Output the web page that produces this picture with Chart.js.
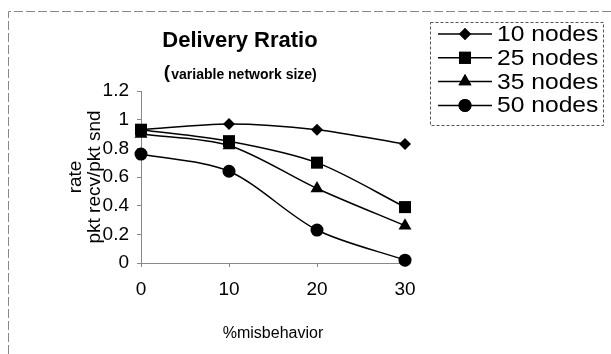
<!DOCTYPE html>
<html lang="en">
<head>
    <meta charset="UTF-8">
    <script src="https://cdn.jsdelivr.net/npm/chart.js"></script>
    <title>Delivery Rratio</title>
    <style>
        body { margin: 0; background: #fff; }
        #wrap { width: 611px; height: 354px; }
    </style>
</head>
<body>
    <div id="wrap"><canvas id="myChart" width="611" height="354"></canvas></div>
    <script>
        // misbehaving nodes (%) and delivery ratio per network size
        var misbehavior = ['0', '10', '20', '30'];
        var nodes10 = [0.93, 0.97, 0.93, 0.83];
        var nodes25 = [0.93, 0.85, 0.70, 0.39];
        var nodes35 = [0.90, 0.82, 0.52, 0.26];
        var nodes50 = [0.76, 0.64, 0.23, 0.02];
        var seriesNames = ['10 nodes', '25 nodes', '35 nodes', '50 nodes'];
        var yTicks = [0, 0.2, 0.4, 0.6, 0.8, 1, 1.2];

        var FONT = '"Liberation Sans", Arial, sans-serif';

        function line(label, values, style, radius) {
            return {
                label: label,
                data: values,
                borderColor: '#000',
                backgroundColor: '#000',
                borderWidth: 1.5,
                tension: 0.3,
                pointStyle: style,
                pointRadius: radius,
                pointBorderWidth: 0,
                pointBackgroundColor: '#000',
                clip: false
            };
        }

        // page frame, title block and the boxed legend
        var decor = {
            id: 'decor',
            afterDraw: function (chart) {
                var ctx = chart.ctx;
                ctx.save();
                ctx.strokeStyle = '#888';
                ctx.lineWidth = 1;
                ctx.setLineDash([9, 3]);
                ctx.beginPath();
                ctx.moveTo(8.5, 354);
                ctx.lineTo(8.5, 11.5);
                ctx.lineTo(611, 11.5);
                ctx.stroke();

                ctx.fillStyle = '#000';
                ctx.textAlign = 'center';
                ctx.textBaseline = 'middle';
                ctx.font = 'bold 22px ' + FONT;
                ctx.fillText('Delivery Rratio', 240, 41);
                ctx.font = 'bold 14px ' + FONT;
                ctx.fillText('variable network size)', 244, 75);
                ctx.font = 'bold 19px ' + FONT;
                ctx.fillText('(', 167, 73);

                // legend
                ctx.strokeStyle = '#555';
                ctx.setLineDash([3, 2]);
                ctx.strokeRect(430.5, 22.5, 173, 103);
                ctx.setLineDash([]);
                ctx.textAlign = 'left';
                ctx.font = '22px ' + FONT;
                chart.data.datasets.forEach(function (ds, i) {
                    var y = 34 + i * 23.8;
                    ctx.strokeStyle = '#000';
                    ctx.lineWidth = 1.5;
                    ctx.beginPath();
                    ctx.moveTo(438, y);
                    ctx.lineTo(492, y);
                    ctx.stroke();
                    Chart.helpers.drawPoint(ctx, {
                        pointStyle: ds.pointStyle,
                        radius: ds.pointRadius,
                        borderWidth: 0,
                        rotation: 0
                    }, 465, y);
                    ctx.fill();
                    ctx.save();
                    ctx.translate(497, y + 1);
                    ctx.scale(1.12, 1);
                    ctx.fillText(ds.label, 0, 0);
                    ctx.restore();
                });
                ctx.restore();
            }
        };

        var ctx = document.getElementById('myChart').getContext('2d');
        var chart = new Chart(ctx, {
            type: 'line',
            data: {
                labels: misbehavior,
                datasets: [
                    line(seriesNames[0], nodes10, 'rectRot', 6),
                    line(seriesNames[1], nodes25, 'rect', 8.5),
                    line(seriesNames[2], nodes35, 'triangle', 7.5),
                    line(seriesNames[3], nodes50, 'circle', 6.5)
                ]
            },
            options: {
                responsive: false,
                animation: false,
                devicePixelRatio: 1,
                layout: { padding: { left: 66, right: 206, top: 91, bottom: 11 } },
                plugins: {
                    legend: { display: false },
                    title: { display: false },
                    tooltip: { enabled: false }
                },
                scales: {
                    x: {
                        offset: false,
                        grid: { drawOnChartArea: false, color: '#888', tickLength: 4 },
                        border: { color: '#888', dash: [3, 2] },
                        ticks: { color: '#000', padding: 11, font: { family: FONT, size: 19 } },
                        title: {
                            display: true, text: '%misbehavior', color: '#000',
                            font: { family: FONT, size: 16 }, padding: { top: 0, bottom: 0 }
                        },
                        afterFit: function (s) { s.height = 354 - 11 - 263; }
                    },
                    y: {
                        min: 0,
                        max: 1.2,
                        afterBuildTicks: function (s) {
                            s.ticks = yTicks.map(function (v) { return { value: v }; });
                        },
                        grid: { drawOnChartArea: false, color: '#888', tickLength: 4 },
                        border: { color: '#888', dash: [3, 2] },
                        ticks: {
                            color: '#000', padding: 8, font: { family: FONT, size: 19 },
                            callback: function (v) { return String(Math.round(v * 10) / 10); }
                        },
                        title: {
                            display: true, text: ['rate', 'pkt recv/pkt snd'], color: '#000',
                            font: { family: FONT, size: 19, lineHeight: 1.0 }, padding: 0
                        },
                        afterFit: function (s) { s.width = 141 - 66; }
                    }
                }
            },
            plugins: [decor]
        });
    </script>
</body>
</html>
